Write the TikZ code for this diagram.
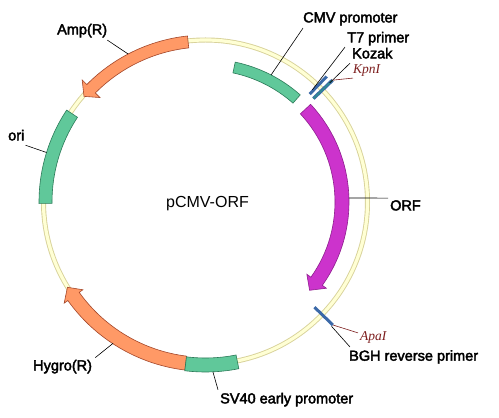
\documentclass[tikz,border=0pt]{standalone}
\usepackage{fontspec}
\setmainfont{Liberation Sans}
\newfontfamily\lblfont{Liberation Sans}[FakeBold=2.6]
\newfontfamily\enzfont{Liberation Serif}
\definecolor{ringedge}{HTML}{D8D29A}
\definecolor{ringfill}{HTML}{FFFFD4}
\definecolor{resfill}{HTML}{FF9966}
\definecolor{resdraw}{HTML}{A4472A}
\definecolor{promfill}{HTML}{60C89A}
\definecolor{promdraw}{HTML}{2B7A58}
\definecolor{orffill}{HTML}{CC33CC}
\definecolor{orfdraw}{HTML}{8E1E8E}
\definecolor{primblue}{HTML}{3B69A8}
\definecolor{kozteal}{HTML}{2F8F8F}
\definecolor{enzred}{HTML}{7E1F1F}

% band along the backbone: [style]{radius}{from}{to}{width}
\newcommand{\featarc}[5][]{%
  \draw[#1] ({#3}:{#2-#5/2}) arc[start angle={#3}, end angle={#4}, radius={#2-#5/2}]
    -- ({#4}:{#2+#5/2}) arc[start angle={#4}, end angle={#3}, radius={#2+#5/2}] -- cycle;}
% band with head: [style]{radius}{from}{head base}{tip}{width}{head half width}
\newcommand{\featarrow}[7][]{%
  \draw[#1] ({#3}:{#2-#6/2}) arc[start angle={#3}, end angle={#4}, radius={#2-#6/2}]
    -- ({#4}:{#2-#7}) -- ({#5}:{#2}) -- ({#4}:{#2+#7})
    -- ({#4}:{#2+#6/2}) arc[start angle={#4}, end angle={#3}, radius={#2+#6/2}] -- cycle;}

\begin{document}
\begin{tikzpicture}[
    x=1pt, y=1pt,
    ring/.style={
        draw=ringedge,
        line width=0.9pt,
        double=ringfill,
        double distance=3.2pt
    },
    resist/.style={
        draw=resdraw,
        fill=resfill,
        line width=0.6pt
    },
    promo/.style={
        draw=promdraw,
        fill=promfill,
        line width=0.6pt
    },
    orfband/.style={
        draw=orfdraw,
        fill=orffill,
        line width=0.6pt
    },
    primer/.style={
        draw=primblue,
        line width=3pt
    },
    kozakbar/.style={
        draw=primblue,
        line width=1pt,
        double=kozteal,
        double distance=1.4pt
    },
    lbl/.style={
        font=\lblfont\fontsize{14.5}{16}\selectfont,
        inner sep=0pt
    },
    enz/.style={
        font=\enzfont\itshape\fontsize{13.5}{15}\selectfont,
        text=enzred,
        inner sep=0pt
    },
    leader/.style={
        draw=black,
        line width=0.6pt
    },
    enzleader/.style={
        draw=enzred,
        line width=0.6pt
    }
]

\useasboundingbox[fill=white] (0,0) rectangle (499,418);

% Backbone and features
\begin{scope}[shift={(205.5,216)}]
\draw[ring] (0,0) circle[radius=162];

\featarrow[resist]{161}{96.2}{135.3}{139}{12}{12.5}      % Amp(R)
\featarc[promo]{160}{146.5}{180.5}{13}                 % ori
\featarrow[resist]{162.3}{263}{215.6}{211.7}{14}{11.5}  % Hygro(R)
\featarc[promo]{163}{263}{281.3}{14}                   % SV40
\featarc[promo]{137.5}{78}{48.5}{11}                   % CMV
\featarrow[orfband]{136.5}{42.9}{-35.5}{-40.3}{14}{12}  % ORF

\draw[primer] (46:150) -- (46:174.5);
\draw[kozakbar] (43.8:149.5) -- (43.8:176);
\draw[primer] (-44:151.5) -- (-44:177);

% leader start points
\coordinate (cmvpt) at (62.7:143);
\coordinate (t7pt) at (46.4:155);
\coordinate (kozpt) at (43.8:172);
\coordinate (kpnpt) at (43.8:176);
\coordinate (amppt) at (117.6:167);
\coordinate (oript) at (162.7:166.5);
\coordinate (orfpt) at (1.6:143.5);
\coordinate (apapt) at (-44:177);
\coordinate (bghpt) at (-44.6:177);
\coordinate (sv40pt) at (272.5:170);
\coordinate (hygpt) at (236.8:169);
\end{scope}

% Labels
\node[font=\fontsize{16}{18}\selectfont, anchor=base] (namelbl) at (207.5,210.6) {pCMV-ORF};

\node[lbl, anchor=base west] (cmvlbl) at (303,395.6) {CMV promoter};
\node[lbl, anchor=base west] (t7lbl) at (347,375.6) {T7 primer};
\node[lbl, anchor=base west] (kozlbl) at (352,359.6) {Kozak};
\node[enz, anchor=base west] (kpnlbl) at (353,344) {KpnI};
\node[lbl, anchor=base west] (amplbl) at (57,383.6) {Amp(R)};
\node[lbl, anchor=base west] (orilbl) at (8,277.6) {ori};
\node[lbl, anchor=base west] (orflbl) at (390,207.6) {ORF};
\node[enz, anchor=base west] (apalbl) at (360,77) {ApaI};
\node[lbl, anchor=base west] (bghlbl) at (349,57.3) {BGH reverse primer};
\node[lbl, anchor=base west] (sv40lbl) at (220,14.6) {SV40 early promoter};
\node[lbl, anchor=base west] (hyglbl) at (33,47.6) {Hygro(R)};

% Leaders
\draw[leader] (cmvpt) -- ([yshift=-2.5pt]cmvlbl.south west);
\draw[leader] (t7pt) -- ([xshift=-2pt,yshift=-1.5pt]t7lbl.south west);
\draw[leader] (kozpt) -- ([xshift=-2pt,yshift=-4.5pt]kozlbl.south west);
\draw[enzleader] (kpnpt) -- ([yshift=-1pt]kpnlbl.south west);
\draw[leader] (amppt) -- ([yshift=-2.5pt]amplbl.south east);
\draw[leader] (oript) -- ([xshift=1pt,yshift=-4.5pt]orilbl.south east);
\draw[leader] (orfpt) -- ([xshift=-2pt,yshift=2pt]orflbl.north west);
\draw[enzleader] (apapt) -- ([xshift=-2pt,yshift=-1pt]apalbl.north west);
\draw[leader] (bghpt) -- ([xshift=1pt,yshift=3pt]bghlbl.north west);
\draw[leader] (sv40pt) -- ([xshift=-2pt,yshift=3pt]sv40lbl.north west);
\draw[leader] (hygpt) -- ([xshift=3pt,yshift=2pt]hyglbl.north east);

\end{tikzpicture}
\end{document}
